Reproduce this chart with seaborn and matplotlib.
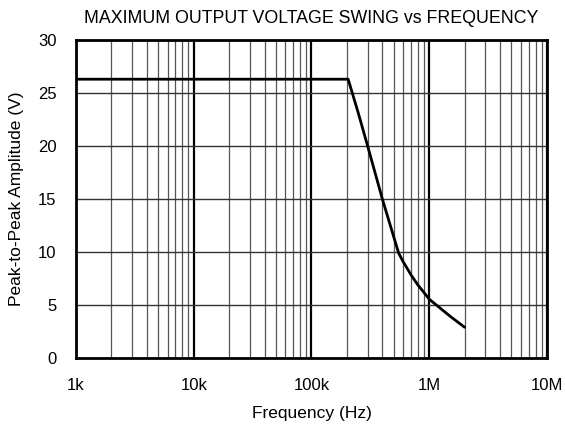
import matplotlib
matplotlib.use("Agg")
import matplotlib.pyplot as plt
import seaborn as sns
import pandas as pd
import numpy as np
from matplotlib.ticker import FixedLocator, NullFormatter, LogLocator

freq_hz = [1e3, 2.05e5, 2.5e5, 3.0e5, 4.0e5, 5.5e5, 6.0e5, 7.0e5, 8.0e5, 9.0e5,
           1.0e6, 1.5e6, 2.0e6]
amplitude_v = [26.3, 26.3, 23.1, 20.0, 15.0, 9.9, 9.1, 7.85, 6.9, 6.2,
               5.55, 3.95, 2.9]
x_tick_vals = [1e3, 1e4, 1e5, 1e6, 1e7]
x_tick_labels = ["1k", "10k", "100k", "1M", "10M"]
y_tick_vals = [0, 5, 10, 15, 20, 25, 30]

sns.set_style("white")
plt.rcParams['font.family'] = ['Liberation Sans', 'DejaVu Sans']
plt.rcParams['text.color'] = 'black'
plt.rcParams['axes.labelcolor'] = 'black'

df = pd.DataFrame({"Frequency": freq_hz, "Amplitude": amplitude_v})

fig = plt.figure(figsize=(5.65, 4.24), dpi=100)
ax = fig.add_axes([0.1345, 0.1557, 0.968 - 0.1345, 0.9057 - 0.1557])
ax.set_xscale("log")
ax.set_xlim(1e3, 1e7)
ax.set_ylim(0, 30)

ax.xaxis.set_major_locator(FixedLocator(x_tick_vals))
ax.set_xticklabels(x_tick_labels)
ax.xaxis.set_minor_locator(LogLocator(base=10, subs=np.arange(2, 10), numticks=20))
ax.xaxis.set_minor_formatter(NullFormatter())
ax.set_yticks(y_tick_vals)

ax.grid(which="major", axis="x", color="black", linewidth=1.6)
ax.grid(which="minor", axis="x", color="#555555", linewidth=0.9)
ax.grid(which="major", axis="y", color="#333333", linewidth=1.0)
ax.set_axisbelow(True)

sns.lineplot(data=df, x="Frequency", y="Amplitude", ax=ax, color="black", linewidth=2.0)

for s in ax.spines.values():
    s.set_color("black")
    s.set_linewidth(2.0)
ax.tick_params(which="both", length=0, labelsize=12, colors="black")
ax.tick_params(axis="x", pad=14.5)
ax.tick_params(axis="y", pad=14)

ax.set_xlabel("Frequency (Hz)", fontsize=12.5, labelpad=9, color="black")
ax.set_ylabel("Peak-to-Peak Amplitude (V)", fontsize=12.5, labelpad=10, color="black")
ax.set_title("MAXIMUM OUTPUT VOLTAGE SWING vs FREQUENCY", fontsize=12.8, pad=12,
             color="black")

fig.savefig("out.png", dpi=100)
